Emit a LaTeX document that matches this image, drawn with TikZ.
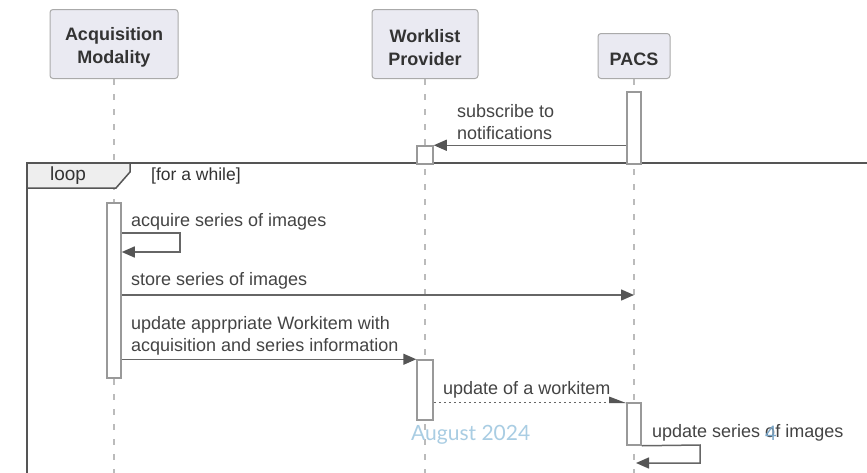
\documentclass[tikz,border=0pt]{standalone}
\usepackage{fontspec}
\setmainfont{Liberation Sans}
\newfontfamily\footfont{Lato}
\usetikzlibrary{arrows.meta}
\definecolor{partfill}{HTML}{EAEAF2}
\definecolor{partdraw}{HTML}{AAAAAA}
\definecolor{txt}{HTML}{333333}
\definecolor{msgtxt}{HTML}{444444}
\definecolor{linec}{HTML}{666666}
\definecolor{headc}{HTML}{555555}
\definecolor{framec}{HTML}{555555}
\definecolor{tabfill}{HTML}{EEEEEE}
\definecolor{lifec}{HTML}{BBBBBB}
\definecolor{actc}{HTML}{999999}
\definecolor{footc}{HTML}{A9CDE3}
\definecolor{numc}{HTML}{7AA6C8}
\tikzset{
  participant/.style={draw=partdraw, fill=partfill, rounded corners=3pt, line width=1pt,
    inner sep=0pt, anchor=south},
  ptext/.style={font=\bfseries\fontsize{18}{23}\selectfont, text=txt, align=center, inner sep=0pt, yshift=-3.5pt},
  lifeline/.style={draw=lifec, line width=1.2pt, dash pattern=on 6pt off 9pt},
  act/.style={draw=actc, fill=white, line width=1.5pt, minimum width=14pt, inner sep=0pt},
  msg/.style={draw=linec, line width=1.5pt, -{Triangle[length=13pt,width=11pt,color=headc]}},
  dotmsg/.style={draw=linec, line width=1.5pt, dash pattern=on 2pt off 3pt,
    -{Triangle[left,length=15pt,width=11pt,color=headc]}},
  lbl/.style={font=\fontsize{18}{21.5}\selectfont, text=msgtxt, align=left, anchor=west, inner sep=0pt},
}
\begin{document}
\begin{tikzpicture}[x=1pt,y=-1pt]
\useasboundingbox (0,0) rectangle (867,472);
\clip (0,0) rectangle (867,472);
\fill[white] (0,0) rectangle (867,472);

% participants
\node[participant, minimum width=128pt, minimum height=69pt,
  label={[ptext]center:Acquisition\\Modality}] (acq) at (114,79) {};
\node[participant, minimum width=106pt, minimum height=69pt,
  label={[ptext]center:Worklist\\Provider}] (wl) at (425,79) {};
\node[participant, minimum width=72pt, minimum height=45pt,
  label={[ptext]center:PACS}] (pacs) at (634,79) {};

% lifelines
\draw[lifeline] (acq.south) -- (acq.south |- 0,480);
\draw[lifeline] (wl.south) -- (wl.south |- 0,480);
\draw[lifeline] (pacs.south) -- (pacs.south |- 0,480);

% loop frame
\draw[framec, line width=2pt] (890,163) -- (27,163) -- (27,490);
\draw[framec, line width=1.5pt, fill=tabfill] (27,163) -- (130,163) -- (130,172) -- (116,188) -- (27,188) -- cycle;
\node[font=\fontsize{19}{22}\selectfont, text=txt, inner sep=0pt] (looplbl) at (68,176) {loop};
\node[font=\fontsize{17.5}{20}\selectfont, text=txt, anchor=west, inner sep=0pt] (cond) at (151,176) {[for a while]};

% activations
\node[act, minimum height=72pt] (pA1) at (634,128) {};
\node[act, minimum width=16pt, minimum height=18pt] (wA1) at (425,155) {};
\node[act, minimum height=175pt] (aA1) at (114,290.5) {};
\node[act, minimum width=16pt, minimum height=60pt] (wA2) at (425,390) {};
\node[act, minimum height=42pt] (pA2) at (634,424) {};

% subscribe
\draw[msg] (pA1.west |- wA1.north) -- (wA1.north east);
\node[lbl] (l1) at (457,122) {subscribe to\\notifications};

% acquire (self)
\coordinate (c1) at (180,233);
\coordinate (c2) at (180,252);
\draw[msg] (aA1.east |- c1) -- (c1) -- (c2) -- (aA1.east |- c2);
\node[lbl] (l2) at (131,222) {acquire series of images};

% store
\coordinate (st) at (634,295);
\draw[msg] (aA1.east |- st) -- (st);
\node[lbl] (l3) at (131,281) {store series of images};

% update workitem
\draw[msg] (aA1.east |- wA2.north) -- (wA2.north west);
\node[lbl] (l4) at (131,336) {update apprpriate Workitem with\\acquisition and series information};

% notification
\draw[dotmsg] (wA2.east |- pA2.north) -- (pA2.north west);
\node[lbl] (l5) at (443,390) {update of a workitem};

% update series (self)
\coordinate (c3) at (700,445);
\coordinate (c4) at (700,463);
\coordinate (c5) at (636,463);
\draw[msg] (pA2.south east) -- (c3) -- (c4) -- (c5);
\node[lbl] (l6) at (652,433) {update series of images};

% footer
\node[font=\footfont\fontsize{21}{24}\selectfont, text=footc, anchor=west, inner sep=0pt] (foot) at (411,435) {August 2024};
\node[font=\footfont\fontsize{20}{24}\selectfont, text=numc, inner sep=0pt] (num) at (771,433) {4};
\end{tikzpicture}
\end{document}
